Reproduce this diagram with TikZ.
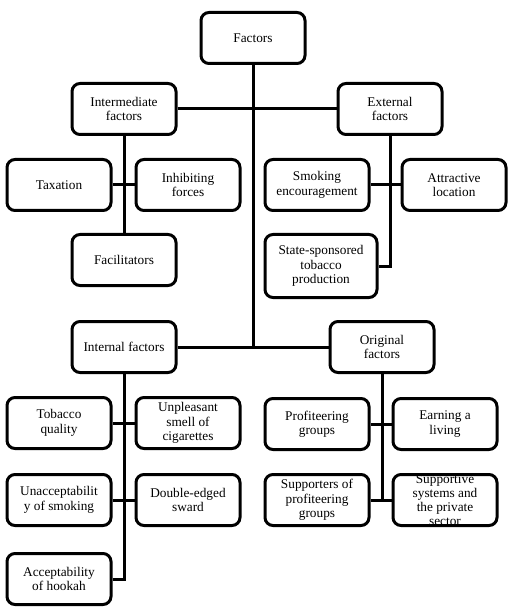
\documentclass[tikz,border=0pt]{standalone}
\usepackage{fontspec}
\setmainfont{Liberation Serif}
\tikzset{
  every picture/.style={x=1pt, y=-1pt, line width=3pt},
  box/.style={draw, rounded corners=8pt, align=center, inner sep=2pt,
    minimum width=104pt, minimum height=51pt, font=\fontsize{13.3}{14.5}\selectfont},
  link/.style={draw, line width=3pt},
}

\begin{document}
\begin{tikzpicture}
  \useasboundingbox (0,0) rectangle (518,609);
  % top levels
  \node[box] (fac) at (253,38) {Factors};
  \node[box] (inter) at (124,109) {Intermediate\\factors};
  \node[box] (ext) at (390,109) {External\\factors};
  \node[box] (int) at (124,347) {Internal factors};
  \node[box] (orig) at (382,347) {Original\\factors};
  % intermediate
  \node[box] (tax) at (59,185) {Taxation};
  \node[box] (inh) at (188,185) {Inhibiting\\forces};
  \node[box] (faci) at (124,260) {Facilitators};
  % external
  \node[box] (smok) at (317,185) {Smoking\\encouragement};
  \node[box] (attr) at (454,185) {Attractive\\location};
  \node[box, minimum width=112pt, minimum height=63pt] (state) at (321,266) {State-sponsored\\tobacco\\production};
  % internal
  \node[box] (tobq) at (59,423) {Tobacco\\quality};
  \node[box] (unpl) at (188,423) {Unpleasant\\smell of\\cigarettes};
  \node[box] (unacc) at (59,500) {Unacceptabilit\\y of smoking};
  \node[box] (dbl) at (188,500) {Double-edged\\sward};
  \node[box] (hook) at (59,579) {Acceptability\\of hookah};
  % original
  \node[box] (prof) at (317,424) {Profiteering\\groups};
  \node[box] (earn) at (445,424) {Earning a\\living};
  \node[box] (supp) at (317,500) {Supporters of\\profiteering\\groups};
  % text runs over the box here
  \node[box] (supsys) at (445,500) {\smash{\raisebox{-5pt}{\renewcommand\arraystretch{0.97}%
    \begin{tabular}{@{}c@{}}Supportive\\systems and\\the private\\sector\end{tabular}}}};

  \draw[link] (fac.south) -- (fac.south |- int.east);
  \draw[link] (inter.east) -- (ext.west);
  \draw[link] (int.east) -- (orig.west);
  \draw[link] (inter.south) -- (faci.north);
  \draw[link] (tax.east) -- (inh.west);
  \draw[link] (ext.south) |- (state.east);
  \draw[link] (smok.east) -- (attr.west);
  \draw[link] (int.south) |- (hook.east);
  \draw[link] (tobq.east) -- (unpl.west);
  \draw[link] (unacc.east) -- (dbl.west);
  \draw[link] (orig.south) -- (orig.south |- supp.east);
  \draw[link] (prof.east) -- (earn.west);
  \draw[link] (supp.east) -- (supsys.west);
\end{tikzpicture}
\end{document}
